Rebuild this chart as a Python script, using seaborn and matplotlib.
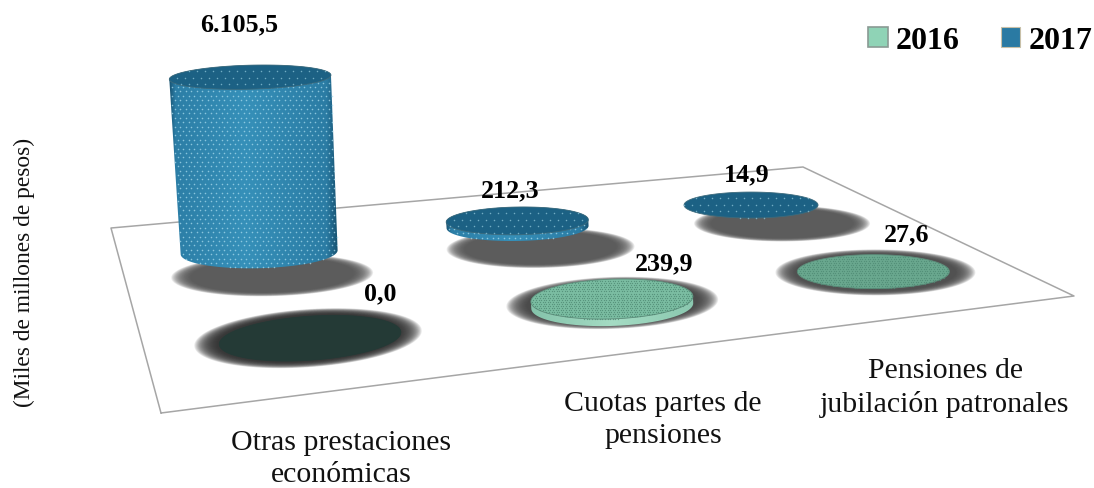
import numpy as np
import pandas as pd
import matplotlib
matplotlib.use("Agg")
import matplotlib.pyplot as plt
import seaborn as sns
from matplotlib.patches import Patch, Polygon
from matplotlib.path import Path

# data
categories = ["Otras prestaciones\neconómicas", "Cuotas partes de\npensiones", "Pensiones de\njubilación patronales"]
series_names = ["2016", "2017"]
values_2016 = [0.0, 239.9, 27.6]
values_2017 = [6105.5, 212.3, 14.9]
y_title = "(Miles de millones de pesos)"

sns.set_theme(style="white")
plt.rcParams['font.family'] = ['Liberation Serif', 'DejaVu Serif']

fig, ax = plt.subplots(figsize=(10.94, 4.89), dpi=100)
fig.subplots_adjust(0, 0, 1, 1)
W, H = 1094, 489

# floor corners in pixels, u = category axis, v = series axis
corners_uv = [(0, 0), (3, 0), (3, 2), (0, 2)]
corners_px = [(161, 414), (1074, 297), (803, 168), (111, 229)]


def homography(src, dst):
    A, b = [], []
    for (u, v), (x, y) in zip(src, dst):
        A.append([u, v, 1, 0, 0, 0, -u * x, -v * x])
        A.append([0, 0, 0, u, v, 1, -u * y, -v * y])
        b += [x, y]
    h = np.linalg.solve(np.array(A, float), np.array(b, float))
    return np.append(h, 1).reshape(3, 3)


HM = homography(corners_uv, corners_px)


def floor(u, v):
    p = HM @ np.array([u, v, 1.0])
    return p[0] / p[2], p[1] / p[2]


def ellipse(cx, cy, rx, ry, tilt=0, t0=0, t1=360, n=120):
    t = np.radians(np.linspace(t0, t1, n))
    a = np.radians(tilt)
    ex, ey = rx * np.cos(t), ry * np.sin(t)
    return np.column_stack([cx + ex * np.cos(a) - ey * np.sin(a), cy + ex * np.sin(a) + ey * np.cos(a)])


def shadow(cx, cy, rx, ry, tilt, color, zorder=2):
    for f in np.linspace(1.0, 0.8, 26):
        ax.add_patch(Polygon(ellipse(cx, cy, rx * f, ry * f, tilt), fc=color, ec="none", alpha=0.1, zorder=zorder))


def dots(poly, step, color, size, zorder, alpha=1.0):
    xs = np.arange(poly[:, 0].min(), poly[:, 0].max(), step)
    ys = np.arange(poly[:, 1].min(), poly[:, 1].max(), step * 0.8)
    gx, gy = np.meshgrid(xs, ys)
    gx = gx + (np.arange(len(ys))[:, None] % 2) * step / 2
    pts = np.column_stack([gx.ravel(), gy.ravel()])
    pts = pts[Path(poly).contains_points(pts)]
    d = pd.DataFrame(pts, columns=["x", "y"])
    sns.scatterplot(data=d, x="x", y="y", ax=ax, color=color, s=size, linewidth=0, alpha=alpha,
                    legend=False, zorder=zorder)


# floor frame
frame = pd.DataFrame(corners_px + corners_px[:1], columns=["x", "y"])
ax.plot(frame.x, frame.y, color="#a6a6a6", lw=1.1, zorder=1)

u_pos = {"2016": [0.487, 1.5, 2.5], "2017": [0.487, 1.478, 2.48]}
v_pos = {"2016": 0.47, "2017": 1.17}

shadow_rx = {"2016": [114, 106, 100], "2017": [101, 94, 88]}
shadow_ry = {"2016": [29, 26, 23], "2017": [21, 20, 18]}
disc_rx = {"2016": [91, 81, 76], "2017": [78.5, 71, 67]}
disc_ry = {"2016": [22, 20, 17], "2017": [16, 14, 13]}
tilts = {"2016": [-4, -2, 0], "2017": [-1.5, -1, 0]}
shadow_colors = {"2016": ["#303030", "#444444", "#4a4a4a"], "2017": ["#565656", "#565656", "#565656"]}
# how far the marks sit from their shadow
lift = {"2016": [(2, 0), (0, 3), (-2, 0)], "2017": [(-13, -23), (-23, -21), (-31, -18)]}
px_per_value = 175 / 6105.5
lean = -9 / 175

tops_2016 = ["#243a36", "#7bbda2", "#6aa88f"]

# back row first, then front row
for name, vals in [("2017", values_2017), ("2016", values_2016)]:
    for i, val in enumerate(vals):
        sx, sy = floor(u_pos[name][i], v_pos[name])
        dark = (name == "2016" and i == 0)
        tilt = tilts[name][i]
        shadow(sx, sy, shadow_rx[name][i], shadow_ry[name][i], tilt, shadow_colors[name][i])
        bx, by = sx + lift[name][i][0], sy + lift[name][i][1]
        rx, ry = disc_rx[name][i], disc_ry[name][i]
        h = val * px_per_value
        tx, ty = bx + h * lean, by - h
        # the ellipse gets flatter and a bit wider going up, only the tall one shows it
        top_ry = ry - 4 * h / 175
        top_rx = rx * (1 + h / 175 * 0.03)
        top = ellipse(tx, ty, top_rx, top_ry, tilt)
        if h > 1:
            lo = ellipse(bx, by, rx, ry, tilt, 0, 180)
            up = ellipse(tx, ty, top_rx, top_ry, tilt, 180, 360)
            body = np.vstack([lo, up])
            if name == "2017":
                grad = np.interp(np.linspace(0, 1, 256), [0, 0.04, 0.45, 0.93, 1], [0, 0.6, 1, 0.55, 0])
                cmap = sns.blend_palette(["#175271", "#2a7aa2", "#3690b9"], as_cmap=True)
            else:
                grad = np.interp(np.linspace(0, 1, 256), [0, 0.5, 1], [0.4, 1, 0.5])
                cmap = sns.blend_palette(["#6fb39a", "#a5dcc4"], as_cmap=True)
            im = ax.imshow(grad[None, :], extent=(body[:, 0].min(), body[:, 0].max(), H, 0), aspect="auto",
                           cmap=cmap, vmin=0, vmax=1, zorder=3)
            im.set_clip_path(Polygon(body, transform=ax.transData))
            if name == "2017":
                dots(body, 5.5, "#a9dcee", 1.3, 3.5, alpha=0.75)
        top_color = "#1c6184" if name == "2017" else tops_2016[i]
        edge = "#3c6a7c" if name == "2017" else ("#243a36" if dark else "#5b8a78")
        ax.add_patch(Polygon(top, fc=top_color, ec=edge, lw=0.6, zorder=4))
        if name == "2017":
            dots(top, 8, "#8fc6da", 1.2, 4.5, alpha=0.75)
        elif not dark:
            dots(top, 2.6, "#4f8a74", 0.9, 4.5, alpha=0.8)

# value labels
label_pos_2016 = [(380, 294), (664, 264), (907, 235)]
label_pos_2017 = [(239, 25), (510, 191), (747, 175)]


def es(v):
    return f"{v:,.1f}".replace(",", "#").replace(".", ",").replace("#", ".")


for vals, pos in [(values_2016, label_pos_2016), (values_2017, label_pos_2017)]:
    for v, (x, y) in zip(vals, pos):
        ax.text(x, y, es(v), ha="center", va="center", fontsize=18.7, fontweight="bold", color="black", zorder=6)

# category labels
label_pos_cat = [(341, 459), (663, 420), (945, 388)]
for c, (x, y) in zip(categories, label_pos_cat):
    ax.text(x, y, c, ha="center", va="center", fontsize=21.5, color="#111111", linespacing=1.3, zorder=6)

ax.text(24, 272, y_title, rotation=90, ha="center", va="center", fontsize=16.8, color="#111111")

handles = [Patch(fc="#8fd3b6", ec="#8a9a94", lw=1.2), Patch(fc="#2a7aa3", ec="#c8c0a8", lw=0.8)]
leg = ax.legend(handles, series_names, loc="upper right", bbox_to_anchor=(1092 / W, 1 - 27 / H), ncol=2, frameon=False,
                prop={"size": 23, "weight": "bold"}, labelcolor="black", handlelength=0.6, handleheight=0.6,
                handletextpad=0.25, columnspacing=1.3, borderaxespad=0, borderpad=0)

ax.set_xlim(0, W)
ax.set_ylim(H, 0)
ax.set_xlabel("")
ax.set_ylabel("")
ax.axis("off")
fig.savefig("out.png", dpi=100, facecolor="white")
